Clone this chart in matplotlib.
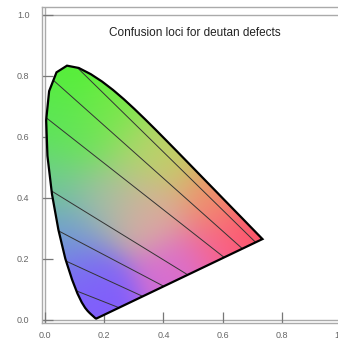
import numpy as np
import matplotlib
matplotlib.use("Agg")
import matplotlib.pyplot as plt
from matplotlib.patches import Polygon

# CIE 1931 spectral locus (x, y), 380-700 nm
locus_x = [0.1741, 0.1740, 0.1738, 0.1736, 0.1733, 0.1730, 0.1726, 0.1721, 0.1714,
           0.1703, 0.1689, 0.1669, 0.1644, 0.1611, 0.1566, 0.1510, 0.1440, 0.1355,
           0.1241, 0.1096, 0.0913, 0.0687, 0.0454, 0.0235, 0.0082, 0.0039, 0.0139,
           0.0389, 0.0743, 0.1142, 0.1547, 0.1929, 0.2296, 0.2658, 0.3016, 0.3373,
           0.3731, 0.4087, 0.4441, 0.4788, 0.5125, 0.5448, 0.5752, 0.6029, 0.6270,
           0.6482, 0.6658, 0.6801, 0.6915, 0.7006, 0.7079, 0.7140, 0.7190, 0.7230,
           0.7260, 0.7283, 0.7300, 0.7311, 0.7320, 0.7327, 0.7334, 0.7344, 0.7347]
locus_y = [0.0050, 0.0050, 0.0049, 0.0049, 0.0048, 0.0048, 0.0048, 0.0048, 0.0051,
           0.0058, 0.0069, 0.0086, 0.0109, 0.0138, 0.0177, 0.0227, 0.0297, 0.0399,
           0.0578, 0.0868, 0.1327, 0.2007, 0.2950, 0.4127, 0.5384, 0.6548, 0.7502,
           0.8120, 0.8338, 0.8262, 0.8059, 0.7816, 0.7543, 0.7243, 0.6923, 0.6589,
           0.6245, 0.5896, 0.5547, 0.5202, 0.4866, 0.4544, 0.4242, 0.3965, 0.3725,
           0.3514, 0.3340, 0.3197, 0.3083, 0.2993, 0.2920, 0.2859, 0.2809, 0.2770,
           0.2740, 0.2717, 0.2700, 0.2689, 0.2680, 0.2673, 0.2666, 0.2656, 0.2653]

# deutan copunctal point and where each confusion line leaves the locus
copunctal = (1.40, -0.40)
line_start_x = [0.100, 0.027, 0.008, 0.027, 0.050, 0.078, 0.115]
line_start_y = [0.836, 0.787, 0.660, 0.420, 0.290, 0.190, 0.092]

# colours, used to shade the inside of the locus
anchor_x = [0.08, 0.02, 0.02, 0.05, 0.12, 0.18, 0.45, 0.62, 0.72, 0.58, 0.42,
            0.25, 0.35, 0.20, 0.15, 0.32]
anchor_y = [0.82, 0.65, 0.45, 0.28, 0.12, 0.02, 0.14, 0.22, 0.27, 0.40, 0.55,
            0.70, 0.36, 0.40, 0.60, 0.56]
anchor_rgb = [(85, 240, 55), (90, 230, 85), (110, 205, 140), (110, 155, 215),
              (125, 105, 245), (130, 90, 255), (215, 110, 210), (250, 100, 150),
              (255, 75, 85), (240, 145, 105), (200, 205, 95), (115, 235, 65),
              (220, 170, 160), (165, 190, 165), (105, 230, 85), (175, 215, 115)]

ticks = [0.0, 0.2, 0.4, 0.6, 0.8, 1.0]
tick_labels = ["0.0", "0.2", "0.4", "0.6", "0.8", "1.0"]
title = "Confusion loci for deutan defects"

fig = plt.figure(figsize=(3.38, 3.43), dpi=100)
ax = fig.add_axes([0.1244, 0.0582, 0.9107, 0.9204])
ax.set_xlim(-0.01, 1.03)
ax.set_ylim(-0.01, 1.025)

# smooth shaded fill (gaussian-weighted blend of the sampled colours)
gx, gy = np.meshgrid(np.linspace(0, 0.76, 300), np.linspace(0, 0.86, 300))
ax_pts = np.array(anchor_x)[:, None, None]
ay_pts = np.array(anchor_y)[:, None, None]
d2 = (gx - ax_pts) ** 2 + (gy - ay_pts) ** 2
w = np.exp(-d2 / (2 * 0.09 ** 2)) + 1e-12
cols = np.array(anchor_rgb, dtype=float) / 255.0
img = np.einsum("kij,kc->ijc", w, cols) / w.sum(axis=0)[:, :, None]

locus = Polygon(np.column_stack([locus_x, locus_y]), closed=True,
                facecolor="none", edgecolor="black", linewidth=1.6, zorder=4)
ax.add_patch(locus)
im = ax.imshow(np.clip(img, 0, 1), extent=(0, 0.76, 0, 0.86), origin="lower",
               interpolation="bilinear", zorder=2, aspect="auto")
im.set_clip_path(locus)

# confusion lines toward the copunctal point
for sx, sy in zip(line_start_x, line_start_y):
    dx, dy = copunctal[0] - sx, copunctal[1] - sy
    ln, = ax.plot([sx - 0.05 * dx, copunctal[0]], [sy - 0.05 * dy, copunctal[1]],
                  color="#333333", linewidth=0.7, zorder=3)
    ln.set_clip_path(locus)

# frame: inner unit square lines and outer spines
for v in [0, 1]:
    ax.axhline(v, color="#aaaaaa", linewidth=1, zorder=1)
    ax.axvline(v, color="#aaaaaa", linewidth=1, zorder=1)
for s in ax.spines.values():
    s.set_color("#aaaaaa")
    s.set_linewidth(1)

ax.set_xticks(ticks)
ax.set_xticklabels(tick_labels)
ax.set_yticks(ticks)
ax.set_yticklabels(tick_labels)
ax.tick_params(direction="in", length=8, width=0.9, color="#777777",
               labelsize=6.5, labelcolor="#666666")
ax.tick_params(axis="x", pad=6)
ax.tick_params(axis="y", pad=9)
for lab in ax.get_xticklabels() + ax.get_yticklabels():
    lab.set_family("Liberation Sans")

ax.text(0.507, 0.941, title, ha="center", va="center", fontsize=8.5,
        family="Liberation Sans", color="#222222")

fig.savefig("out.png", dpi=100)
